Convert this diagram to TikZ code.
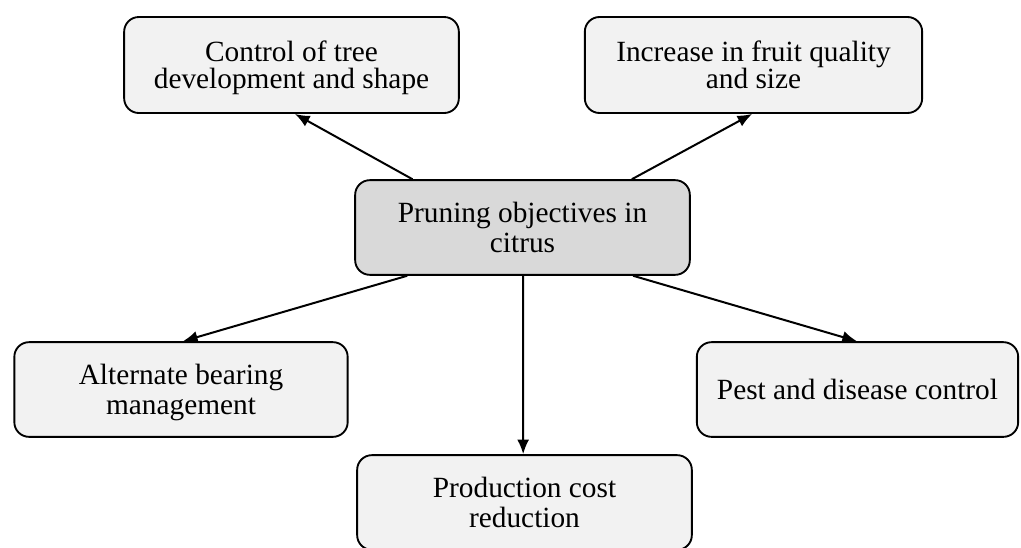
\documentclass[tikz,border=0pt]{standalone}
\usepackage{fontspec}
\setmainfont{Liberation Serif}
\usetikzlibrary{arrows.meta}
\definecolor{boxfill}{HTML}{F2F2F2}
\definecolor{mainfill}{HTML}{D9D9D9}
\tikzset{
  objbox/.style={draw=black, line width=1.4pt, rounded corners=11pt, fill=boxfill,
    align=center, inner sep=0pt, text depth=0pt, font=\fontsize{22}{22.5}\selectfont},
  tightbox/.style={objbox, font=\fontsize{22}{20.5}\selectfont},
  mainbox/.style={objbox, fill=mainfill},
  arr/.style={line width=1.5pt, -{Latex[length=11pt,width=9pt]}}
}
\begin{document}
\begin{tikzpicture}[x=0.75pt, y=-0.75pt]
\clip (0,0) rectangle (1021,547);
\fill[white] (0,0) rectangle (1021,547);
\node[mainbox, minimum width=251pt, minimum height=71pt] (c) at (522.5,227.5) {Pruning objectives in\\citrus};
\node[tightbox, minimum width=251pt, minimum height=72pt] (b1) at (291.5,65) {Control of tree\\development and shape};
\node[tightbox, minimum width=253pt, minimum height=72pt] (b2) at (753.5,65) {Increase in fruit quality\\and size};
\node[objbox, minimum width=250pt, minimum height=71pt] (b3) at (181,389.5) {Alternate bearing\\management};
\node[objbox, minimum width=241pt, minimum height=71pt] (b4) at (857.5,389.5) {Pest and disease control};
\node[objbox, minimum width=251pt, minimum height=71pt] (b5) at (524.5,502.5) {Production cost\\reduction};
\draw[arr] ([xshift=-82.5pt]c.north) -- ([xshift=2.6pt]b1.south);
\draw[arr] ([xshift=82pt]c.north) -- ([xshift=-1pt]b2.south);
\draw[arr] ([xshift=-86.5pt]c.south) -- ([xshift=1.5pt]b3.north);
\draw[arr] ([xshift=0.4pt]c.south) -- ([xshift=-1pt]b5.north);
\draw[arr] ([xshift=83pt]c.south) -- ([xshift=-0.4pt]b4.north);
\end{tikzpicture}
\end{document}
